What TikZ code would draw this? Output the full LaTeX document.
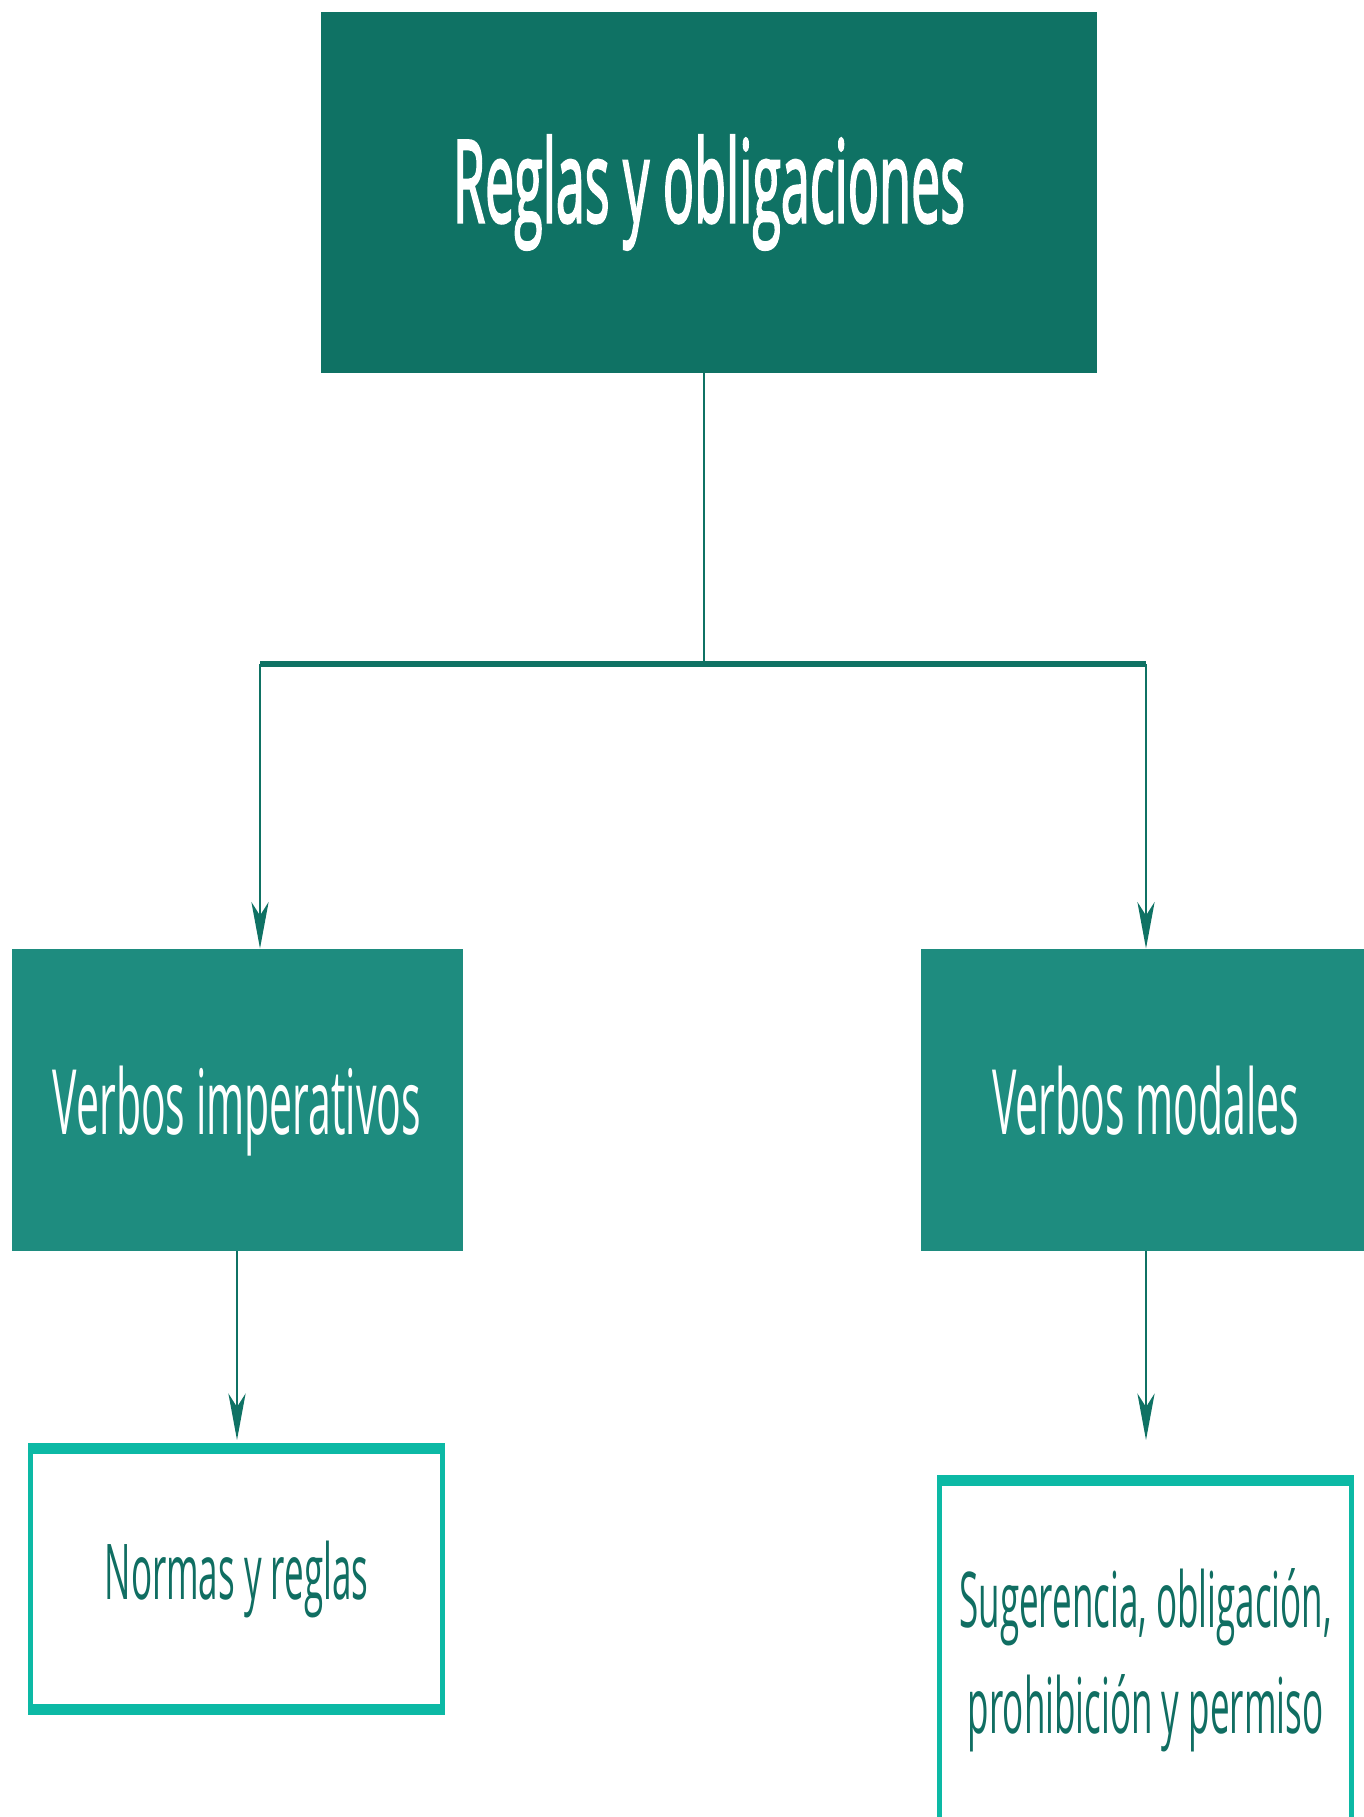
\documentclass[tikz,border=0pt]{standalone}
\usepackage{fontspec}
\setmainfont{Open Sans}
\newfontfamily\headfont[FakeBold=2.5]{Open Sans}
\usepackage{xcolor}
\usetikzlibrary{arrows.meta}
\definecolor{darkteal}{RGB}{15,114,100}
\definecolor{midteal}{RGB}{30,140,127}
\definecolor{lightteal}{RGB}{12,185,165}
\definecolor{textteal}{RGB}{16,110,98}

\tikzset{
  headbox/.style={rectangle, fill=darkteal, text=white, minimum width=776pt, minimum height=164pt,
    font=\fontsize{52}{62}\headfont},
  verbbox/.style={rectangle, fill=midteal, text=white, minimum width=451pt, minimum height=137.3pt,
    text depth=0pt, font=\fontsize{41}{50}\selectfont},
  leafbox/.style={rectangle, draw=lightteal, line width=5pt, fill=white, text=textteal,
    minimum width=412pt, align=center, font=\fontsize{35}{48.2}\selectfont},
  link/.style={draw=darkteal, line width=2.5pt},
  arrowlink/.style={-{Stealth[length=21pt, width=17pt, inset=6pt]}}
}

\begin{document}
\begin{tikzpicture}[x=1pt, y=-1pt]
    \useasboundingbox (0,0) rectangle (1364,1817);
    \clip (0,0) rectangle (1364,1817);
    % the whole chart is stretched upward
    \begin{scope}[transform canvas={yscale=2.2}, y=-0.454545pt]
        \node[headbox] (reglas) at (709,192.5) {Reglas y obligaciones};
        \node[verbbox] (imper) at (237,1100) {Verbos imperativos};
        \node[verbbox] (modal) at (1146,1100) {Verbos modales};
        \node[leafbox, minimum height=118.6pt] (normas) at (236.5,1579) {Normas y reglas};
        \node[leafbox, minimum height=163.2pt] (sugeren) at (1145.6,1660) {Sugerencia, obligación,\\ prohibición y permiso};

        \coordinate (barL) at (260,664);
        \coordinate (barR) at (1146,664);
        \coordinate (downL) at (237,1440);
        \coordinate (downR) at (1146,1440);

        \draw[link] ([xshift=-5pt]reglas.south) -- ([xshift=-5pt]reglas.south |- barL);
        \draw[link] (barL) -- (barR);
        \draw[link, arrowlink] (barL) -- (barL |- imper.north);
        \draw[link, arrowlink] (barR) -- (modal.north);
        \draw[link, arrowlink] (imper.south) -- (downL);
        \draw[link, arrowlink] (modal.south) -- (downR);
    \end{scope}
\end{tikzpicture}
\end{document}
